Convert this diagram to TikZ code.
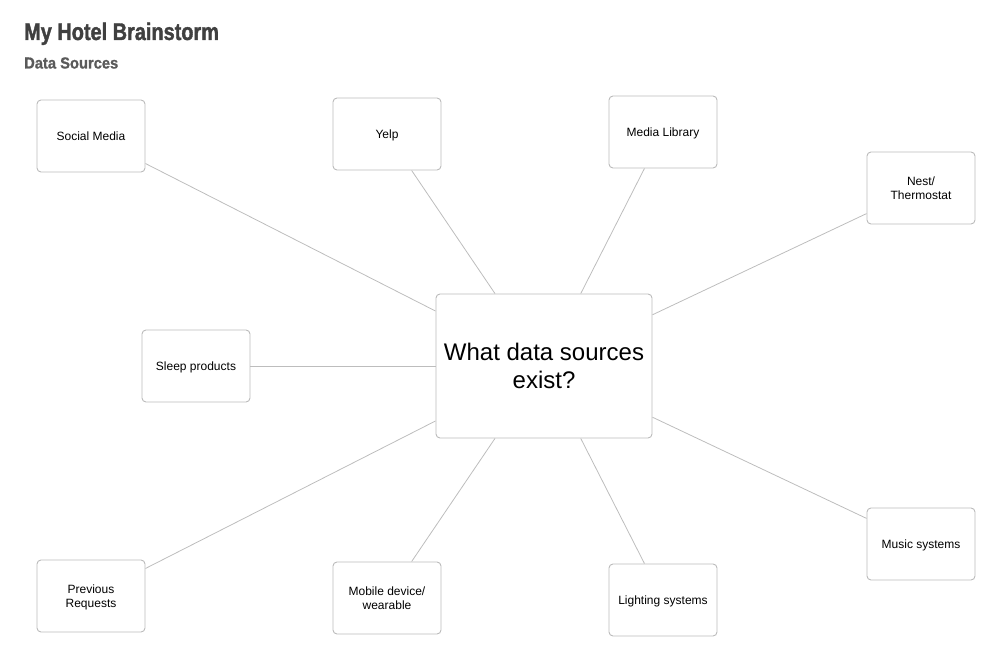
\documentclass[tikz,border=0pt]{standalone}
\usepackage{fontspec}
\setmainfont{Liberation Sans}
\newfontfamily\titlefont{Liberation Sans}[FakeStretch=0.83,FakeBold=1.5]
\newfontfamily\subfont{Liberation Sans}[FakeStretch=0.92,FakeBold=1]
\definecolor{boxgray}{HTML}{BBBBBB}
\definecolor{linegray}{HTML}{BDBDBD}
\definecolor{titlegray}{HTML}{404040}
\definecolor{subgray}{HTML}{5A5A5A}
\begin{document}
\begin{tikzpicture}[x=1pt,y=-1pt,
  idea/.style={draw=boxgray, line width=0.9pt, rounded corners=4pt, fill=white,
    minimum width=108pt, minimum height=72pt, inner sep=0pt, align=center,
    text depth=-1pt, font=\fontsize{12}{14}\selectfont},
  hub/.style={idea, minimum width=216pt, minimum height=144pt,
    text depth=-1pt, font=\fontsize{24}{28}\selectfont},
  link/.style={draw=linegray, line width=0.8pt},
  heading/.style={anchor=base west, inner sep=0pt}]
\useasboundingbox (0,0) rectangle (999,658);
\node[heading, text=titlegray, font=\titlefont\bfseries\fontsize{24}{28}\selectfont] (title) at (24,40) {My Hotel Brainstorm};
\node[heading, text=subgray, font=\subfont\bfseries\fontsize{16}{19}\selectfont] (sub) at (24,68.5) {Data Sources};

\node[hub] (c) at (544,366) {What data sources\\exist?};
\node[idea] (social) at (91,136) {Social Media};
\node[idea] (yelp) at (387,134) {Yelp};
\node[idea] (media) at (663,132) {Media Library};
\node[idea] (nest) at (921,188) {Nest/\\Thermostat};
\node[idea] (sleep) at (196,366) {Sleep products};
\node[idea] (prev) at (91,596) {Previous\\Requests};
\node[idea] (mobile) at (387,598) {Mobile device/\\wearable};
\node[idea] (light) at (663,600) {Lighting systems};
\node[idea] (music) at (921,544) {Music systems};

\foreach \n in {social,yelp,media,nest,sleep,prev,mobile,light,music}
  \draw[link] (c) -- (\n);
\end{tikzpicture}
\end{document}
